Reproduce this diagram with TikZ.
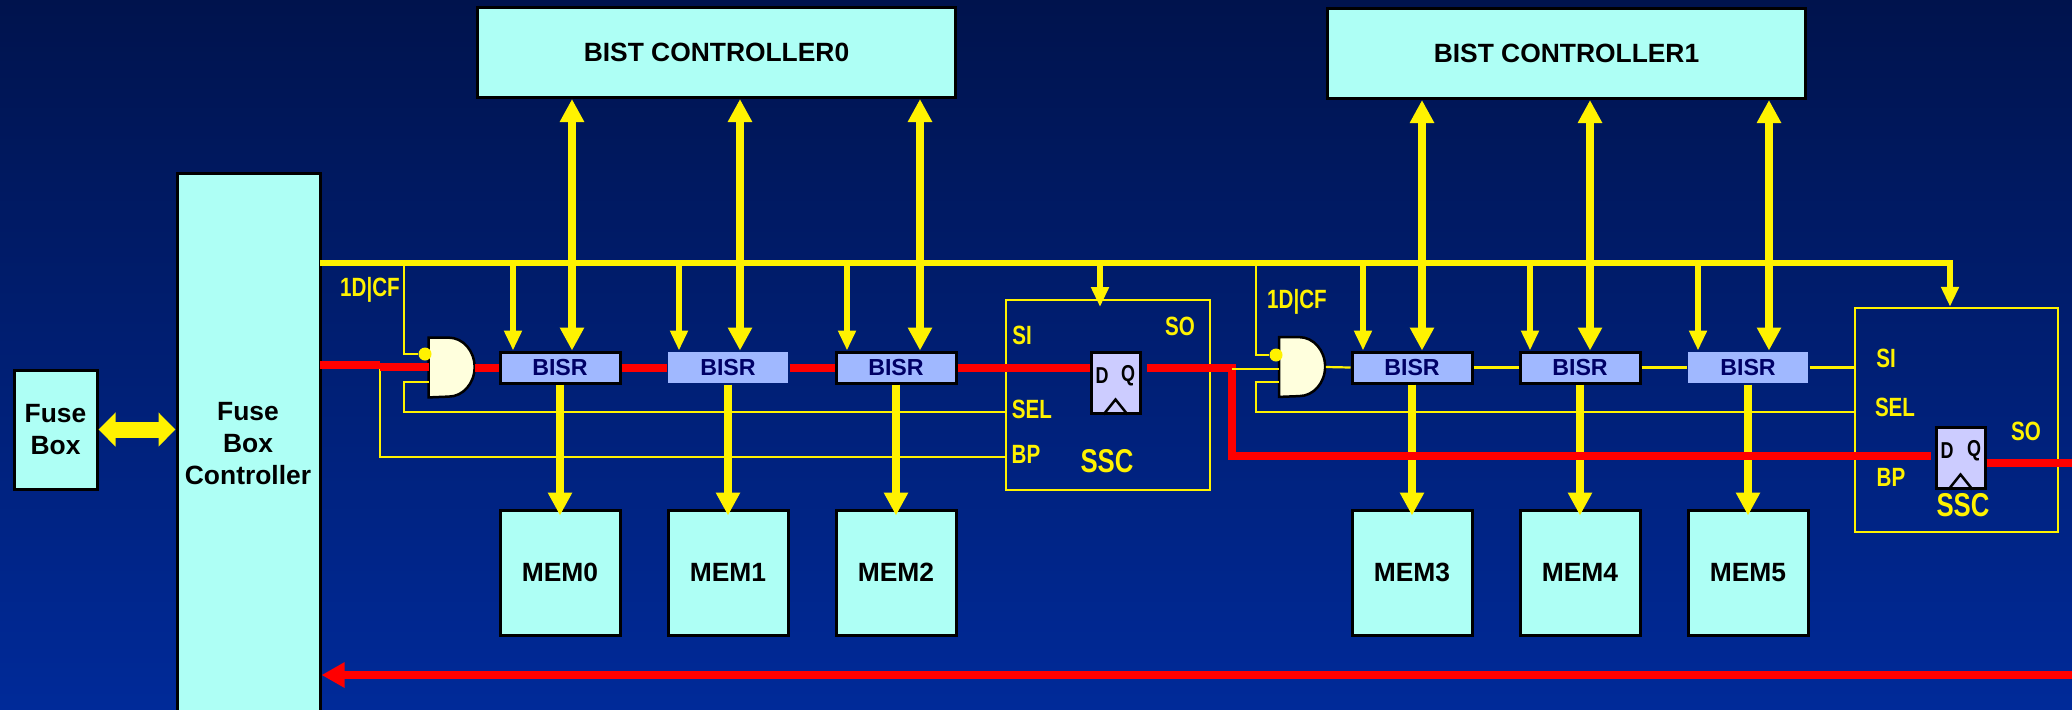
\documentclass[tikz,border=0pt]{standalone}
\usepackage{fontspec}
\setmainfont{Liberation Sans}
\newfontfamily\narrowfont[FakeStretch=0.78]{Liberation Sans}
\usetikzlibrary{arrows.meta}
\definecolor{cback}{HTML}{00134D}
\definecolor{cbackb}{HTML}{002A99}
\definecolor{ccyan}{HTML}{AEFFF5}
\definecolor{cbisr}{HTML}{A0B8FF}
\definecolor{cflop}{HTML}{CCCCFF}
\definecolor{cgate}{HTML}{FFFFDD}
\definecolor{cnavy}{HTML}{000066}
\newcommand{\fsize}[2]{\fontsize{#1}{#2}\selectfont}
\tikzset{
  every picture/.style={x=.5pt, y=-.5pt},
  box/.style={draw=black, fill=ccyan, line width=1.5pt, inner sep=0pt, font=\bfseries\fsize{13.2}{16}},
  bist/.style={box, minimum width=239pt, minimum height=45pt},
  mem/.style={box, minimum width=60pt, minimum height=62.5pt},
  bisr/.style={draw=black, line width=1.5pt, fill=cbisr, inner sep=0pt, minimum width=60pt, minimum height=15.5pt, text=cnavy, font=\bfseries\fsize{11.6}{12}},
  bisrflat/.style={bisr, draw=none},
  ssc/.style={draw=yellow, line width=1.25pt, inner sep=0pt},
  flop/.style={draw=black, fill=cflop, line width=1.5pt, inner sep=0pt, minimum width=24.5pt, minimum height=30.5pt},
  flopclk/.style={draw=black, line width=1.25pt},
  floplbl/.style={text=black, inner sep=0pt, font=\narrowfont\bfseries\fsize{11.5}{12}},
  lbl/.style={text=yellow, inner sep=0pt, font=\narrowfont\bfseries\fsize{13.2}{14}},
  ssclbl/.style={lbl, font=\narrowfont\bfseries\fsize{16.5}{17}},
  andg/.style={inner sep=0pt, minimum width=23pt, minimum height=29.5pt},
  gatebody/.style={draw=black, fill=cgate, line width=1.25pt},
  bubble/.style={circle, fill=yellow, inner sep=0pt, minimum size=6.5pt},
  wire/.style={draw=yellow, line width=1.1pt},
  bus/.style={draw=yellow, line width=3pt},
  redwire/.style={draw=red, line width=4pt},
  thinarrow/.style={draw=yellow, line width=2.7pt, -{Triangle[length=10pt, width=8.5pt]}},
  fatarrow/.style={draw=yellow, line width=4.3pt, -{Triangle[length=11.5pt, width=11.5pt]}},
  biarrow/.style={draw=yellow, line width=4.3pt, {Triangle[length=11.5pt, width=11.5pt]}-{Triangle[length=11.5pt, width=11.5pt]}},
  fusearrow/.style={draw=yellow, line width=8pt, {Triangle[length=8.5pt, width=16.5pt]}-{Triangle[length=8.5pt, width=16.5pt]}},
  redarrow/.style={draw=red, line width=4pt, -{Triangle[length=11.5pt, width=12pt]}},
}
\begin{document}
\begin{tikzpicture}
  \useasboundingbox (0,0) rectangle (2072,709);
  \shade[top color=cback, bottom color=cbackb] (0,0) rectangle (2072,709);

  % ---- fuse side
  \node[box, align=center, minimum width=41.5pt, minimum height=59.5pt] (fuse) at (55.5,429.5) {Fuse\\Box};
  \node[box, minimum width=71.5pt, minimum height=269.5pt] (fbc) at (248.5,442.5) {};
  \node[inner sep=0pt, align=center, font=\bfseries\fsize{13.2}{16}] (fbclbl) at (248,444) {Fuse\\Box\\Controller};

  % ---- controllers
  \node[bist] (bist0) at (716.5,52.5) {BIST CONTROLLER0};
  \node[bist] (bist1) at (1566.5,53.5) {BIST CONTROLLER1};

  % ---- repair cells and memories
  \foreach \n/\x/\s in {0/560/bisr, 1/728/bisrflat, 2/896/bisr, 3/1412/bisr, 4/1580/bisr, 5/1748/bisrflat} {
    \node[\s] (bisr\n) at (\x,367.5) {BISR};
    \node[mem] (mem\n) at (\x,572.5) {MEM\n};
  }

  % ---- gates
  \node[andg] (and0) at (452,367.5) {};
  \node[andg] (and1) at (1302.5,367) {};
  \foreach \g in {and0, and1}
    \draw[gatebody] (\g.south west) -- (\g.north west) -- ([xshift=10pt]\g.north west)
      arc[start angle=90, end angle=-90, x radius=13pt, y radius=14.75pt] -- cycle;
  \node[bubble] (inv0) at (425,354) {};
  \node[bubble] (inv1) at (1276,355) {};

  % ---- scan cells
  \node[ssc, minimum width=102pt, minimum height=95pt] (ssc0) at (1108,395) {};
  \node[ssc, minimum width=101.5pt, minimum height=112pt] (ssc1) at (1956.5,420) {};
  \node[flop] (ff0) at (1115.5,382.5) {};
  \node[flop] (ff1) at (1960.5,457.5) {};
  \foreach \f in {ff0, ff1}
    \draw[flopclk] ([xshift=-6pt]\f.south) -- ([yshift=7.5pt]\f.south) -- ([xshift=6pt]\f.south);
  \node[floplbl] (ff0d) at (1102,376) {D};
  \node[floplbl] (ff0q) at (1128,376) {Q};
  \node[floplbl] (ff1d) at (1947,451) {D};
  \node[floplbl] (ff1q) at (1974,451) {Q};

  % ---- labels
  \node[lbl] (cf0) at (370,290) {1D|CF};
  \node[lbl] (cf1) at (1297,302) {1D|CF};
  \node[lbl] (si0) at (1022,335) {SI};
  \node[lbl] (sel0) at (1032,409) {SEL};
  \node[lbl] (bp0) at (1026,454) {BP};
  \node[lbl] (so0) at (1180,326) {SO};
  \node[ssclbl] (ssclbl0) at (1107,461) {SSC};
  \node[lbl] (si1) at (1886,358) {SI};
  \node[lbl] (sel1) at (1895,407) {SEL};
  \node[lbl] (bp1) at (1891,477) {BP};
  \node[lbl] (so1) at (2026,431) {SO};
  \node[ssclbl] (ssclbl1) at (1963,505) {SSC};

  % ---- corners and free ends
  \coordinate (bus0) at (320,263);
  \coordinate (bus1) at (1953,263);
  \coordinate (cfx0) at (404,263);
  \coordinate (cfx1) at (1256,263);
  \coordinate (selin0) at (429,382);
  \coordinate (selin1) at (1279,382);
  \coordinate (selwire) at (404,412);
  \coordinate (bpwire) at (380,457);
  \coordinate (tap0) at (380,367);
  \coordinate (tap1) at (1232,369);
  \coordinate (fuseout) at (320,365);
  \coordinate (scanbp) at (1232,456);
  \coordinate (scanout) at (2072,463);
  \coordinate (scanback) at (2072,675);

  % ---- thin control wires
  \draw[wire] (cfx0) -- (cfx0 |- inv0) -- (inv0);
  \draw[wire] (cfx1) -- (cfx1 |- inv1) -- (inv1);
  \draw[wire] (selin0) -- (selwire |- selin0) -- (selwire) -- (ssc0.west |- selwire);
  \draw[wire] (selin1) -- (cfx1 |- selin1) -- (cfx1 |- selwire) -- (ssc1.west |- selwire);
  \draw[wire] (tap0) -- (bpwire) -- (ssc0.west |- bpwire);
  \draw[wire] (and1.east) -- (bisr3.west);
  \draw[wire] (bisr3.east) -- (bisr4.west);
  \draw[wire] (bisr4.east) -- (bisr5.west);
  \draw[wire] (bisr5.east) -- (ssc1.west |- bisr5);
  \draw[bus] (bus0) -- (bus1);

  % ---- bus taps
  \foreach \x/\b in {513/bisr0, 679/bisr1, 847/bisr2, 1363/bisr3, 1530/bisr4, 1698/bisr5}
    \draw[thinarrow] (\x,0 |- bus0) -- (\x,0 |- \b.north);
  \draw[thinarrow] (1100,0 |- bus0) -- (1100,307);
  \draw[thinarrow] (1950,0 |- bus0) -- (1950,0 |- ssc1.north);

  % ---- controller links
  \foreach \x/\c/\b in {572/bist0/bisr0, 740/bist0/bisr1, 920/bist0/bisr2, 1422/bist1/bisr3, 1590/bist1/bisr4, 1769/bist1/bisr5}
    \draw[biarrow] (\x,0 |- \c.south) -- (\x,0 |- \b.north);

  % ---- memory links
  \foreach \n in {0,...,5}
    \draw[fatarrow] (bisr\n.south) -- ([yshift=-3.5pt]mem\n.north);
  \draw[fusearrow] (fuse.east) -- (fuse.east -| fbc.west);

  % ---- scan path
  \draw[redwire] (fuseout) -- (tap0 |- fuseout);
  \draw[redwire] (tap0) -- (and0.west |- tap0);
  \draw[redwire] (and0.east) -- (bisr0.west);
  \draw[redwire] (bisr0.east) -- (bisr1.west);
  \draw[redwire] (bisr1.east) -- (bisr2.west);
  \draw[redwire] (bisr2.east) -- (ff0.west |- bisr2);
  \draw[redwire] ([xshift=2.5pt]ff0.east |- bisr2) -- (tap1 |- bisr2) -- (scanbp) -- ([xshift=-2pt]ff1.west |- scanbp);
  \draw[redwire] (ff1.east |- scanout) -- (scanout);
  \draw[redarrow] (scanback) -- (fbc.east |- scanback);
  \draw[wire] (tap1) -- (and1.west |- tap1);
\end{tikzpicture}
\end{document}
